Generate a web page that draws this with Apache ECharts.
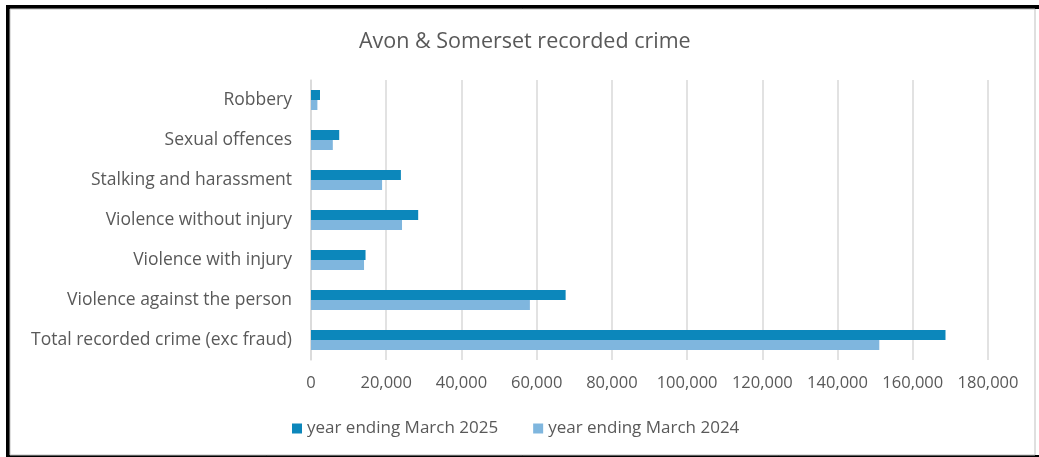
<!DOCTYPE html>
<html>
<head>
<meta charset="utf-8">
<script src="https://cdn.jsdelivr.net/npm/echarts@6/dist/echarts.min.js"></script>
<style>
  html, body { margin: 0; padding: 0; background: #fff; }
  #chart { width: 1039px; height: 457px; }
</style>
</head>
<body>
<div id="chart"></div>
<script>
// Recorded crime by offence group, Avon & Somerset
const categories = [
  'Robbery',
  'Sexual offences',
  'Stalking and harassment',
  'Violence without injury',
  'Violence with injury',
  'Violence against the person',
  'Total recorded crime (exc fraud)'
];
const year2025 = [2400, 7500, 23900, 28500, 14500, 67700, 168700];
const year2024 = [1700, 5800, 18900, 24200, 14100, 58200, 151100];
const seriesNames = ['year ending March 2025', 'year ending March 2024'];

const FONT = '"Open Sans", sans-serif';
const TEXT = '#595959';

const chart = echarts.init(document.getElementById('chart'), null, { renderer: 'canvas' });
chart.setOption({
  backgroundColor: '#ffffff',
  animation: false,
  title: {
    text: 'Avon & Somerset recorded crime',
    left: 354,
    top: 26,
    textStyle: { fontFamily: FONT, fontSize: 21.5, fontWeight: 'normal', color: TEXT }
  },
  legend: {
    data: seriesNames,
    bottom: 15,
    left: 287,
    itemWidth: 10,
    itemHeight: 10,
    itemGap: 35,
    icon: 'rect',
    textStyle: { fontFamily: FONT, fontSize: 17, color: TEXT }
  },
  grid: { left: 311, right: 51, top: 80, bottom: 97, containLabel: false },
  xAxis: {
    type: 'value',
    min: 0,
    max: 180000,
    interval: 20000,
    axisLine: { show: false },
    axisTick: { show: false },
    splitLine: { show: true, lineStyle: { color: '#d9d9d9', width: 1.5 } },
    axisLabel: {
      margin: 15,
      fontFamily: FONT,
      fontSize: 16.5,
      color: TEXT,
      formatter: v => v.toLocaleString('en-GB')
    }
  },
  yAxis: {
    type: 'category',
    data: categories,
    inverse: true,
    axisLine: { show: true, lineStyle: { color: '#d9d9d9', width: 1.5 } },
    axisTick: { show: false },
    axisLabel: { margin: 19, fontFamily: FONT, fontSize: 17.5, color: TEXT }
  },
  series: [
    {
      name: seriesNames[0],
      type: 'bar',
      data: year2025,
      barWidth: 10,
      barGap: '0%',
      itemStyle: { color: '#0c87bb' }
    },
    {
      name: seriesNames[1],
      type: 'bar',
      data: year2024,
      barWidth: 10,
      barGap: '0%',
      itemStyle: { color: '#7fb6de' }
    }
  ],
  graphic: [
    { type: 'rect', shape: { x: 6, y: 5, width: 4, height: 452 }, style: { fill: '#000' }, silent: true },
    { type: 'rect', shape: { x: 6, y: 5, width: 1033, height: 4 }, style: { fill: '#000' }, silent: true },
    { type: 'rect', shape: { x: 6, y: 455, width: 1033, height: 2 }, style: { fill: '#000' }, silent: true },
    { type: 'rect', shape: { x: 10, y: 9, width: 1025, height: 446 }, style: { fill: 'none', stroke: '#bfbfbf', lineWidth: 1 }, silent: true }
  ]
});
</script>
</body>
</html>
